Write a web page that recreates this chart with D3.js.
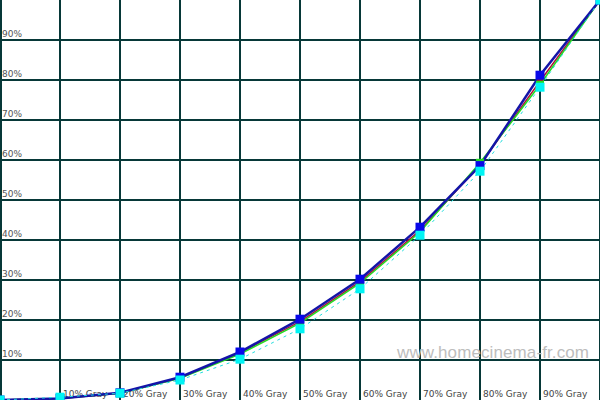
<!DOCTYPE html>
<html>
<head>
<meta charset="utf-8">
<script src="https://cdn.jsdelivr.net/npm/d3@7"></script>
<style>
  body { margin: 0; background: #fff; }
  svg { display: block; }
</style>
</head>
<body>
<svg id="chart" width="600" height="400"></svg>
<script>
(function() {
    var steps = [0, 10, 20, 30, 40, 50, 60, 70, 80, 90, 100];
    var yTicks = [10, 20, 30, 40, 50, 60, 70, 80, 90];
    var xTicks = [10, 20, 30, 40, 50, 60, 70, 80, 90];

    var red   = [0, 0.4, 1.7, 5.5, 11.8, 19.6, 29.6, 42.4, 58.8, 79.7, 100];
    var green = [0, 0.4, 1.7, 5.4, 11.5, 19.2, 29.2, 42.0, 59.3, 78.8, 100];
    var blue  = [0, 0.4, 1.8, 5.7, 12.0, 20.2, 30.2, 43.2, 58.6, 81.2, 100];
    var cyan  = [0, 0.7, 1.7, 5.0, 10.2, 17.8, 27.8, 41.2, 57.2, 78.2, 100];

    var series = [
        {values: red,   color: "#b0103a", mark: "#a01030", width: 1.5, dash: null,  sq: 6},
        {values: green, color: "#22dd22", mark: "#22dd22", width: 1.5, dash: null,  sq: 8},
        {values: blue,  color: "#1414a8", mark: "#0808e8", width: 2.5, dash: null,  sq: 9},
        {values: cyan,  color: "#22dddd", mark: "#00f4f4", width: 1,   dash: "3,4", sq: 9}
    ];

    var w = 600, h = 400;
    var svg = d3.select("#chart");

    var x = d3.scaleLinear().domain([0, 100]).range([0, w]);
    var y = d3.scaleLinear().domain([0, 100]).range([h, 0]);

    // grille
    var grid = svg.append("g")
        .attr("stroke", "#073838")
        .attr("stroke-width", 2)
        .attr("shape-rendering", "crispEdges");
    grid.selectAll("line.v")
        .data(d3.range(0, 101, 10))
        .enter().append("line")
        .attr("x1", d => Math.max(1, x(d))).attr("x2", d => Math.max(1, x(d)))
        .attr("y1", 0).attr("y2", h);
    grid.selectAll("line.h")
        .data(yTicks)
        .enter().append("line")
        .attr("x1", 0).attr("x2", w)
        .attr("y1", d => y(d)).attr("y2", d => y(d));

    // filigrane
    svg.append("text")
        .attr("x", 397).attr("y", 358)
        .attr("font-family", "Arial, 'Liberation Sans', sans-serif")
        .attr("font-size", 17)
        .attr("fill", "#bdbdbd")
        .attr("textLength", 192)
        .text("www.homecinema-fr.com");

    // étiquettes
    svg.append("g").selectAll("text")
        .data(yTicks)
        .enter().append("text")
        .attr("x", 2).attr("y", d => y(d) - 3)
        .attr("font-family", "'DejaVu Sans', Verdana, sans-serif")
        .attr("font-size", 9)
        .attr("fill", "#555")
        .text(d => d + "%");

    svg.append("g").selectAll("text")
        .data(xTicks)
        .enter().append("text")
        .attr("x", d => x(d) + 3).attr("y", 397)
        .attr("font-family", "'DejaVu Sans', Verdana, sans-serif")
        .attr("font-size", 9)
        .attr("fill", "#444")
        .text(d => d + "% Gray");

    var line = d3.line()
        .x((d, i) => x(steps[i]))
        .y(d => y(d));

    series.forEach(function(s) {
        svg.append("path")
            .attr("d", line(s.values))
            .attr("fill", "none")
            .attr("stroke", s.color)
            .attr("stroke-width", s.width)
            .attr("stroke-dasharray", s.dash);
    });

    series.forEach(function(s) {
        svg.append("g").selectAll("rect")
            .data(s.values)
            .enter().append("rect")
            .attr("x", (d, i) => x(steps[i]) - s.sq / 2)
            .attr("y", d => y(d) - s.sq / 2)
            .attr("width", s.sq).attr("height", s.sq)
            .attr("fill", s.mark);
    });
}());
</script>
</body>
</html>
